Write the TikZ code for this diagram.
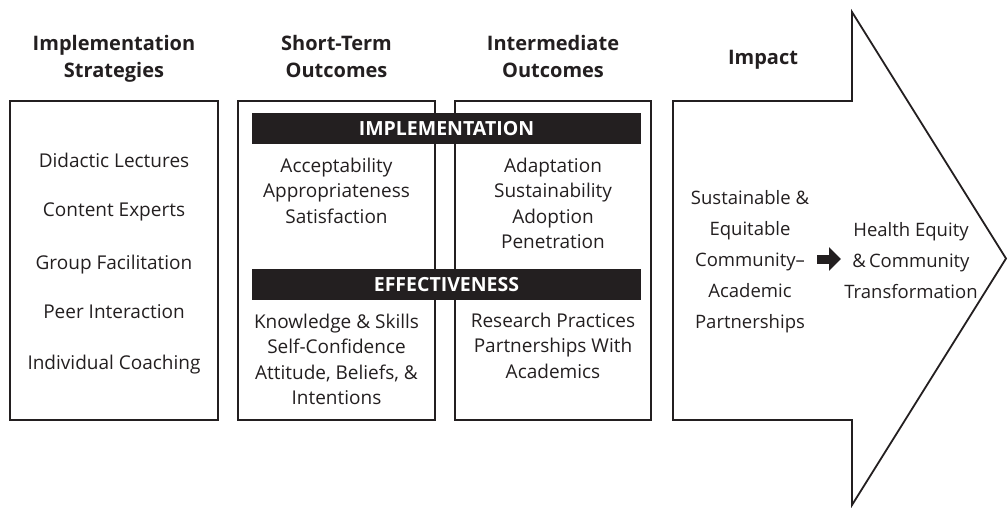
\documentclass[tikz,border=0pt]{standalone}
\usepackage{fontspec}
\setmainfont{Open Sans}
\usetikzlibrary{arrows.meta}
\definecolor{ink}{HTML}{231F20}
\begin{document}
\begin{tikzpicture}[x=1pt,y=-1pt,
  box/.style={draw=ink, line width=2pt, inner sep=0pt},
  bar/.style={fill=ink, inner sep=0pt, text=white, minimum width=389pt, minimum height=31pt, font=\fontsize{19.5}{21}\selectfont\bfseries},
  ttl/.style={align=center, text=ink, inner sep=0pt, anchor=north, font=\fontsize{20}{27}\selectfont\bfseries},
  item/.style={align=center, text=ink, inner sep=0pt, anchor=north, font=\fontsize{19}{25.5}\selectfont},
  imp/.style={align=center, text=ink, inner sep=0pt, anchor=north, font=\fontsize{18.5}{31}\selectfont},
  outline/.style={draw=ink, line width=1.8pt, line join=miter},
  ]
\path[use as bounding box] (0,0) rectangle (1008,507);

% titles
\node[ttl] (t1) at (114,35.5) {Implementation\\Strategies};
\node[ttl] (t2) at (336.5,35.5) {Short-Term\\Outcomes};
\node[ttl] (t3) at (553,35.5) {Intermediate\\Outcomes};
\node[ttl] (t4) at (763,50.5) {Impact};

% boxes
\node[box, minimum width=208pt, minimum height=319pt] (b1) at (114,260.5) {};
\node[box, minimum width=197pt, minimum height=319pt] (b2) at (336.5,260.5) {};
\node[box, minimum width=196pt, minimum height=319pt] (b3) at (553,260.5) {};

% big arrow
\draw[outline] (673,101) -- (852,101) -- (852,12) -- (1006,258.5) -- (852,505) -- (852,420) -- (673,420) -- cycle;

% bars
\node[bar] (bi) at (446.5,128.5) {IMPLEMENTATION};
\node[bar] (be) at (446.5,284.5) {EFFECTIVENESS};

% strategies
\node[item] (s1) at (114,152.5) {Didactic Lectures};
\node[item] (s2) at (114,202.5) {Content Experts};
\node[item] (s3) at (114,254.5) {Group Facilitation};
\node[item] (s4) at (114,304.5) {Peer Interaction};
\node[item] (s5) at (114,354.5) {Individual Coaching};

% short-term
\node[item] (st1) at (336.5,157.5) {Acceptability\\Appropriateness\\Satisfaction};
\node[item] (st2) at (336.5,313.5) {Knowledge \& Skills\\Self-Confidence\\Attitude, Beliefs, \&\\Intentions};

% intermediate
\node[item] (im1) at (553,157.5) {Adaptation\\Sustainability\\Adoption\\Penetration};
\node[item] (im2) at (553,312.5) {Research Practices\\Partnerships With\\Academics};

% impact
\node[imp] (p1) at (750,190) {Sustainable \&\\Equitable\\Community–\\Academic\\Partnerships};
\node[imp] (p2) at (911,222) {Health Equity\\\&\,Community\\Transformation};

\coordinate (sa) at (817,259);
\coordinate (sb) at (841,259);
\draw[ink, line width=9pt, -{Triangle[length=12pt,width=23pt]}] (sa) -- (sb);
\end{tikzpicture}
\end{document}
